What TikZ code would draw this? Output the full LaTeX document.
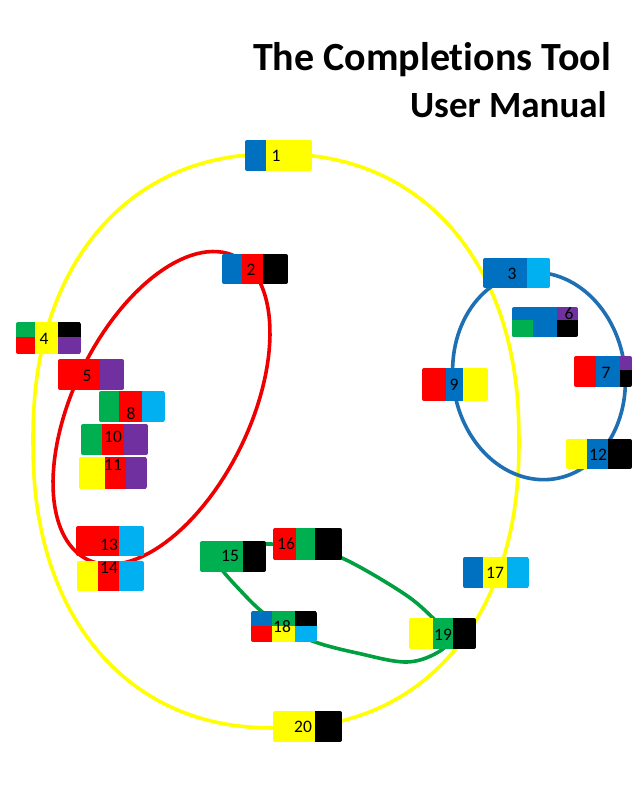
\documentclass[tikz,border=0pt]{standalone}
\usepackage{fontspec}
\setmainfont{Carlito}[Ligatures={NoCommon}]
\definecolor{cB}{HTML}{0070C0}
\definecolor{cR}{HTML}{FF0000}
\definecolor{cY}{HTML}{FFFF00}
\definecolor{cK}{HTML}{000000}
\definecolor{cG}{HTML}{00B050}
\definecolor{cL}{HTML}{00B0F0}
\definecolor{cP}{HTML}{7030A0}
\definecolor{lineG}{HTML}{00A040}
\definecolor{lineB}{HTML}{1F6FB5}
\definecolor{lineR}{HTML}{EE0000}
\tikzset{
  lbl/.style={font=\fontsize{17.5}{17.5}\selectfont, inner sep=0pt, text=black},
  ttl/.style={font=\fontsize{40}{40}\selectfont\bfseries, inner sep=0pt, anchor=base east},
  loopline/.style={line width=3.6pt},
  blk/.style={rounded corners=2pt}
}
\begin{document}
\begin{tikzpicture}[x=1pt,y=-1pt]
\useasboundingbox[fill=white] (0,0) rectangle (641,796);
% title
\node[ttl] (t1) at (611,70) {The Completions Tool};
\node[ttl, font=\fontsize{37}{37}\selectfont\bfseries] (t2) at (607,117) {User Manual};
% yellow loop
\draw[loopline, cY] plot[domain=0.5:360.5, samples=181, variable=\t]
 ({276+243*sign(cos(\t))*pow(abs(cos(\t)),0.9)},
  {441+287*sign(sin(\t))*pow(abs(sin(\t)),0.9)}) -- cycle;
% red loop
\draw[loopline, lineR] plot[domain=0:360, samples=121, variable=\t]
 ({161.5+168.7*cos(\t)*cos(-64)-88.3*sin(\t)*sin(-64)},
  {408+168.7*cos(\t)*sin(-64)+88.3*sin(\t)*cos(-64)}) -- cycle;
% blue loop
\draw[loopline, lineB] plot[domain=0:360, samples=121, variable=\t]
 ({539+86*cos(\t)*cos(-8)-104*sin(\t)*sin(-8)},
  {376+86*cos(\t)*sin(-8)+104*sin(\t)*cos(-8)}) -- cycle;
% green loop
\draw[loopline, lineG] plot[smooth cycle, tension=0.6] coordinates {
(212,556) (240,546) (270,544) (300,547) (342,558) (403,593) (433,618) (449,636)
(440,651) (407,662) (357,653) (315,642) (285,628) (260,610) (238,588) (222,570)};

% block 1
\begin{scope}\clip[blk] (245,140) rectangle (312,171);
\fill[cB] (245,140) rectangle (266,171); \fill[cY] (266,140) rectangle (312,171);
\end{scope}
\node[lbl] (n1) at (276,156) {1};
% block 2
\begin{scope}\clip[blk] (222,254) rectangle (288,284);
\fill[cB] (222,254) rectangle (242,284); \fill[cR] (242,254) rectangle (263,284);
\fill[cK] (263,254) rectangle (288,284);
\end{scope}
\node[lbl] (n2) at (251,270) {2};
% block 3
\begin{scope}\clip[blk] (483,258) rectangle (550,288);
\fill[cB] (483,258) rectangle (527,288); \fill[cL] (527,258) rectangle (550,288);
\end{scope}
\node[lbl] (n3) at (512,274) {3};
% block 4
\begin{scope}\clip[blk] (16,322) rectangle (81,354);
\fill[cG] (16,322) rectangle (35,337); \fill[cR] (16,337) rectangle (35,354);
\fill[cY] (35,322) rectangle (58,354);
\fill[cK] (58,322) rectangle (81,337); \fill[cP] (58,337) rectangle (81,354);
\end{scope}
\node[lbl] (n4) at (44,339) {4};
% block 5
\begin{scope}\clip[blk] (58,359) rectangle (124,390);
\fill[cR] (58,359) rectangle (100,390); \fill[cP] (100,359) rectangle (124,390);
\end{scope}
\node[lbl] (n5) at (87,376) {5};
% block 6
\begin{scope}\clip[blk] (512,307) rectangle (578,337);
\fill[cB] (512,307) rectangle (557,337); \fill[cP] (557,307) rectangle (578,320);
\fill[cG] (512,320) rectangle (533,337); \fill[cK] (557,320) rectangle (578,337);
\end{scope}
\node[lbl] (n6) at (569,314) {6};
% block 7
\begin{scope}\clip[blk] (574,356) rectangle (632,387);
\fill[cR] (574,356) rectangle (596,387); \fill[cB] (596,356) rectangle (620,387);
\fill[cP] (620,356) rectangle (632,370); \fill[cK] (620,370) rectangle (632,387);
\end{scope}
\node[lbl] (n7) at (606,373) {7};
% block 8
\begin{scope}\clip[blk] (99,391) rectangle (165,422);
\fill[cG] (99,391) rectangle (119,422); \fill[cR] (119,391) rectangle (142,422);
\fill[cL] (142,391) rectangle (165,422);
\end{scope}
\node[lbl] (n8) at (131,414) {8};
% block 9
\begin{scope}\clip[blk] (422,368) rectangle (488,401);
\fill[cR] (422,368) rectangle (446,401); \fill[cB] (446,368) rectangle (463,401);
\fill[cY] (463,368) rectangle (488,401);
\end{scope}
\node[lbl] (n9) at (454,385) {9};
% block 10
\begin{scope}\clip[blk] (81,424) rectangle (148,455);
\fill[cG] (81,424) rectangle (102,455); \fill[cR] (102,424) rectangle (124,455);
\fill[cP] (124,424) rectangle (148,455);
\end{scope}
\node[lbl] (n10) at (113,437) {10};
% block 11
\begin{scope}\clip[blk] (79,457) rectangle (147,489);
\fill[cY] (79,457) rectangle (105,489); \fill[cR] (105,457) rectangle (126,489);
\fill[cP] (126,457) rectangle (147,489);
\end{scope}
\node[lbl] (n11) at (113,465) {11};
% block 12
\begin{scope}\clip[blk] (566,439) rectangle (632,469);
\fill[cY] (566,439) rectangle (587,469); \fill[cB] (587,439) rectangle (608,469);
\fill[cK] (608,439) rectangle (632,469);
\end{scope}
\node[lbl] (n12) at (598,455) {12};
% block 13
\begin{scope}\clip[blk] (76,526) rectangle (144,556);
\fill[cR] (76,526) rectangle (119,556); \fill[cL] (119,526) rectangle (144,556);
\end{scope}
\node[lbl] (n13) at (109,545) {13};
% block 14
\begin{scope}\clip[blk] (77,561) rectangle (144,591);
\fill[cY] (77,561) rectangle (98,591); \fill[cR] (98,561) rectangle (119,591);
\fill[cL] (119,561) rectangle (144,591);
\end{scope}
\node[lbl] (n14) at (109,568) {14};
% block 15
\begin{scope}\clip[blk] (200,541) rectangle (266,572);
\fill[cG] (200,541) rectangle (243,572); \fill[cK] (243,541) rectangle (266,572);
\end{scope}
\node[lbl] (n15) at (230,556) {15};
% block 16
\begin{scope}\clip[blk] (273,528) rectangle (342,560);
\fill[cR] (273,528) rectangle (296,560); \fill[cG] (296,528) rectangle (315,560);
\fill[cK] (315,528) rectangle (342,560);
\end{scope}
\node[lbl] (n16) at (286,544) {16};
% block 17
\begin{scope}\clip[blk] (463,557) rectangle (529,588);
\fill[cB] (463,557) rectangle (483,588); \fill[cY] (483,557) rectangle (507,588);
\fill[cL] (507,557) rectangle (529,588);
\end{scope}
\node[lbl] (n17) at (495,573) {17};
% block 18
\begin{scope}\clip[blk] (251,611) rectangle (317,642);
\fill[cB] (251,611) rectangle (272,626); \fill[cR] (251,626) rectangle (272,642);
\fill[cG] (272,611) rectangle (295,626); \fill[cY] (272,626) rectangle (295,642);
\fill[cK] (295,611) rectangle (317,626); \fill[cL] (295,626) rectangle (317,642);
\end{scope}
\node[lbl] (n18) at (282,627) {18};
% block 19
\begin{scope}\clip[blk] (409,618) rectangle (476,649);
\fill[cY] (409,618) rectangle (433,649); \fill[cG] (433,618) rectangle (453,649);
\fill[cK] (453,618) rectangle (476,649);
\end{scope}
\node[lbl] (n19) at (443,635) {19};
% block 20
\begin{scope}\clip[blk] (273,711) rectangle (342,742);
\fill[cY] (273,711) rectangle (315,742); \fill[cK] (315,711) rectangle (342,742);
\end{scope}
\node[lbl] (n20) at (303,727) {20};
\end{tikzpicture}
\end{document}
